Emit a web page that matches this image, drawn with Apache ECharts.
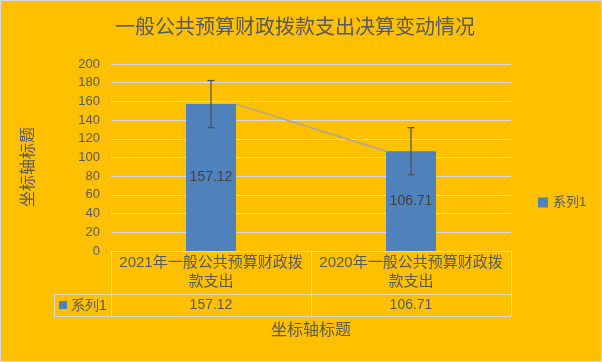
<!DOCTYPE html>
<html>
<head>
<meta charset="utf-8">
<script src="https://cdn.jsdelivr.net/npm/echarts@6/dist/echarts.min.js"></script>
<style>
html,body{margin:0;padding:0;background:#FFC000;}
#chart{width:602px;height:362px;}
</style>
</head>
<body>
<div id="chart"></div>
<script>
const titleText = '一般公共预算财政拨款支出决算变动情况';
const categories = ['2021年一般公共预算财政拨款支出', '2020年一般公共预算财政拨款支出'];
const seriesName = '系列1';
const values = [157.12, 106.71];
const errors = [25.2, 25.2];
const axisTitle = '坐标轴标题';
const yMin = 0, yMax = 200, yInterval = 20;

const FONT = "'Liberation Sans', 'Noto Sans CJK SC', sans-serif";
const TXT = '#595959';
const LINE = '#d9d9d9';
const G = {left: 111, right: 511, top: 64, bottom: 251};
const rowSplit = 294, tableBottom = 316, leftCol = 54;

const chart = echarts.init(document.getElementById('chart'));
const option = {
  animation: false,
  backgroundColor: '#FFC000',
  textStyle: {fontFamily: FONT, color: TXT},
  title: {
    text: titleText, left: 110, top: 13,
    textStyle: {fontSize: 20, fontWeight: 'normal', color: TXT, fontFamily: FONT}
  },
  legend: {
    data: [seriesName], left: 533, top: 191, orient: 'vertical',
    icon: 'rect', itemWidth: 10, itemHeight: 10, itemGap: 5,
    textStyle: {fontSize: 13, color: TXT, fontFamily: FONT}
  },
  grid: {left: G.left, right: 602 - G.right, top: G.top, bottom: 362 - G.bottom, containLabel: false},
  xAxis: {
    type: 'category', data: categories, boundaryGap: true,
    axisLine: {show: true, lineStyle: {color: LINE, width: 1}},
    axisTick: {show: true, length: tableBottom - G.bottom, lineStyle: {color: LINE}},
    axisLabel: {
      margin: 2, interval: 0,
      formatter: (v, i) => `{h|${v.slice(0, 14)}}\n{h|${v.slice(14)}}\n{v|${values[i]}}`,
      rich: {
        h: {fontSize: 15, lineHeight: 19, color: TXT, fontFamily: FONT},
        v: {fontSize: 14, lineHeight: 28, color: TXT, fontFamily: FONT}
      }
    },
    name: axisTitle, nameLocation: 'middle', nameGap: 72,
    nameTextStyle: {fontSize: 16, color: TXT, fontFamily: FONT}
  },
  yAxis: {
    type: 'value', min: yMin, max: yMax, interval: yInterval,
    axisLine: {show: false}, axisTick: {show: false},
    axisLabel: {fontSize: 13, color: TXT, margin: 11, fontFamily: FONT},
    splitLine: {lineStyle: {color: LINE, width: 1}}
  },
  series: [
    {
      name: seriesName, type: 'bar', data: values, barWidth: '25%',
      itemStyle: {color: '#4F81BD'},
      label: {show: true, position: 'inside', color: '#404040', fontSize: 14, fontFamily: FONT}
    },
    {
      name: 'seriesLines', type: 'custom', z: 3,
      data: values.slice(0, -1).map((v, i) => [i, v, values[i + 1]]),
      renderItem: (params, api) => {
        const i = api.value(0);
        const hw = api.size([1, 0])[0] * 0.25 / 2;
        const p1 = api.coord([i, api.value(1)]);
        const p2 = api.coord([i + 1, api.value(2)]);
        return {type: 'line', shape: {x1: p1[0] + hw, y1: p1[1], x2: p2[0] - hw, y2: p2[1]},
          style: {stroke: '#a6a6a6', lineWidth: 1.5}};
      }
    },
    {
      name: 'errorBars', type: 'custom', z: 4,
      data: values.map((v, i) => [i, v, errors[i]]),
      renderItem: (params, api) => {
        const x = api.value(0), v = api.value(1), e = api.value(2);
        const hi = api.coord([x, v + e]);
        const lo = api.coord([x, v - e]);
        const c = 3.5;
        const st = {stroke: '#505050', lineWidth: 1.25};
        return {type: 'group', children: [
          {type: 'line', shape: {x1: hi[0], y1: hi[1], x2: lo[0], y2: lo[1]}, style: st},
          {type: 'line', shape: {x1: hi[0] - c, y1: hi[1], x2: hi[0] + c, y2: hi[1]}, style: st},
          {type: 'line', shape: {x1: lo[0] - c, y1: lo[1], x2: lo[0] + c, y2: lo[1]}, style: st}
        ]};
      }
    }
  ],
  graphic: [
    {type: 'rect', shape: {x: 0.5, y: 0.5, width: 601, height: 361}, style: {fill: 'none', stroke: LINE, lineWidth: 1}, silent: true},
    {type: 'line', shape: {x1: leftCol, y1: rowSplit + 0.5, x2: G.right, y2: rowSplit + 0.5}, style: {stroke: LINE, lineWidth: 1}},
    {type: 'line', shape: {x1: leftCol, y1: tableBottom + 0.5, x2: G.right, y2: tableBottom + 0.5}, style: {stroke: LINE, lineWidth: 1}},
    {type: 'line', shape: {x1: leftCol + 0.5, y1: rowSplit, x2: leftCol + 0.5, y2: tableBottom}, style: {stroke: LINE, lineWidth: 1}},
    {type: 'rect', shape: {x: 59, y: 301, width: 8, height: 8}, style: {fill: '#4F81BD'}},
    {type: 'text', x: 71, y: 306, style: {text: seriesName, fontSize: 14, fill: TXT, font: '14px ' + FONT, verticalAlign: 'middle', textAlign: 'left'}},
    {type: 'text', x: 29, y: 167, rotation: Math.PI / 2,
      style: {text: axisTitle, fill: TXT, font: '16px ' + FONT, textAlign: 'center', verticalAlign: 'middle'}}
  ]
};
chart.setOption(option);
</script>
</body>
</html>
